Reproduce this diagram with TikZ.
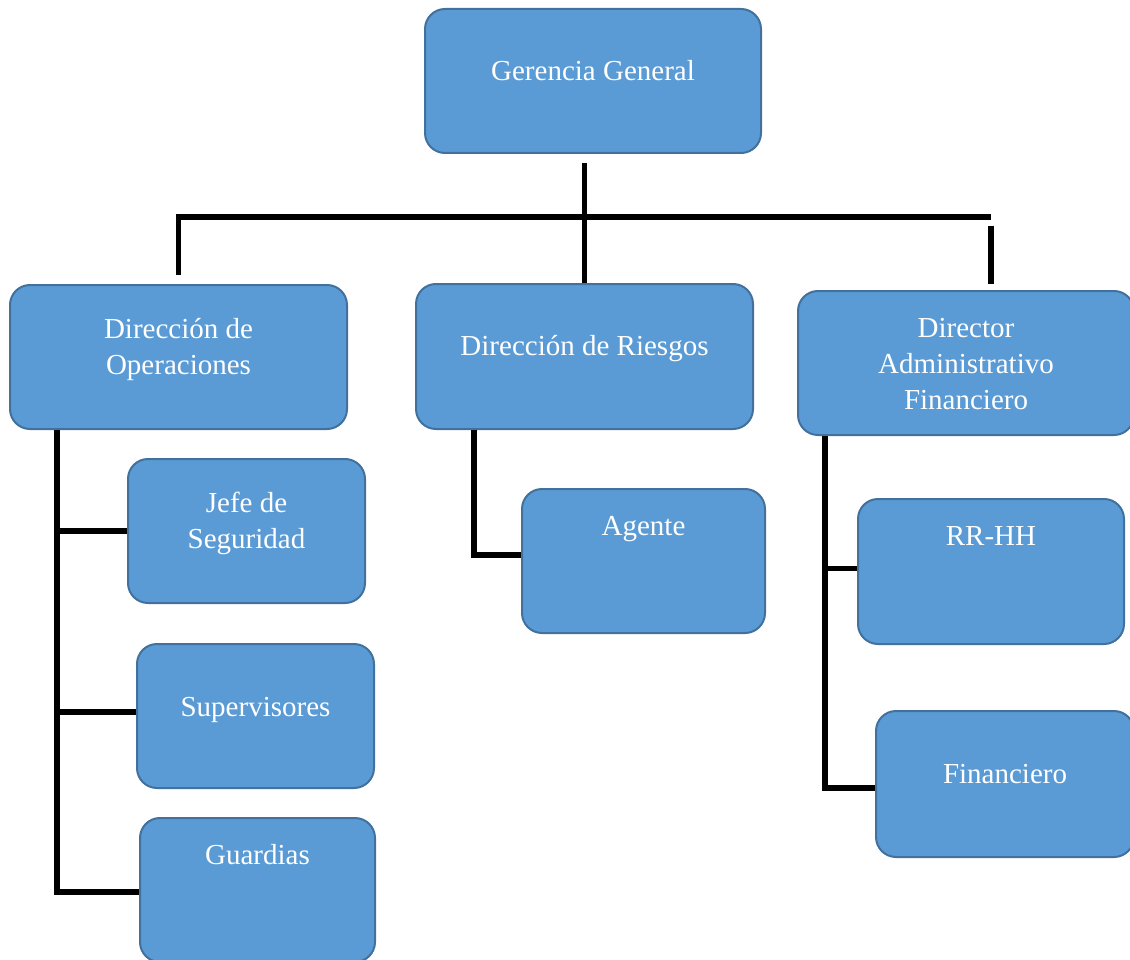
\documentclass[tikz,border=0pt]{standalone}
\usepackage{fontspec}
\setmainfont{Liberation Serif}
\definecolor{boxfill}{HTML}{5B9BD5}
\definecolor{boxline}{HTML}{41719C}
\begin{document}
\begin{tikzpicture}[x=1pt,y=-1pt,
    unit/.style={draw=boxline,fill=boxfill,line width=2pt,rounded corners=20pt,
      text=white,align=center,inner sep=0pt,anchor=north west,
      minimum width=336pt,font=\fontsize{29}{36}\selectfont},
    conn/.style={line width=5.5pt,black}]
  \useasboundingbox (0,0) rectangle (1130,960);
  \clip (0,0) rectangle (1130,960);
  \node[unit,text height=72pt,text depth=72pt] (gg) at (424,8) {Gerencia General};
  \node[unit,minimum width=337pt,text height=89pt,text depth=55pt] (ops) at (9,284)
    {Dirección de\\Operaciones};
  \node[unit,minimum width=337pt,text height=71pt,text depth=74pt] (rie) at (415,283)
    {Dirección de Riesgos};
  \node[unit,text height=118pt,text depth=26pt] (daf) at (797,290)
    {Director\\Administrativo\\Financiero};
  \node[unit,minimum width=237pt,text height=89pt,text depth=55pt] (jefe) at (127,458)
    {Jefe de\\Seguridad};
  \node[unit,minimum width=237pt,text height=72pt,text depth=72pt] (sup) at (136,643)
    {Supervisores};
  \node[unit,minimum width=235pt,text height=46pt,text depth=98pt] (gua) at (139,817)
    {Guardias};
  \node[unit,minimum width=243pt,text height=46pt,text depth=98pt] (age) at (521,488)
    {Agente};
  \node[unit,minimum width=266pt,text height=46pt,text depth=99pt] (rrhh) at (857,498)
    {RR-HH};
  \node[unit,minimum width=258pt,text height=72pt,text depth=74pt] (fin) at (875,710)
    {Financiero};
  \coordinate (busR) at (991,217);
  \draw[conn] ([yshift=-9pt]gg.south -| rie.north) -- (rie.north);
  \draw[conn] ([yshift=9pt]ops.north) |- (busR);
  \draw[conn] ([yshift=-9pt]busR) -- ([yshift=6pt]daf.north -| busR);
  \draw[conn] ([xshift=48pt]ops.south west) |- ([yshift=-2pt]gua.west);
  \draw[conn] ([xshift=48pt]ops.south west |- jefe.west) -- (jefe.west);
  \draw[conn] ([xshift=48pt,yshift=4pt]ops.south west |- sup.west) -- ([yshift=4pt]sup.west);
  \draw[conn] ([xshift=59pt]rie.south west) |- ([yshift=6pt]age.west);
  \draw[conn] ([xshift=28pt]daf.south west) |- ([yshift=-4pt]fin.west);
  \draw[conn] ([xshift=28pt,yshift=3pt]daf.south west |- rrhh.west) -- ([yshift=3pt]rrhh.west);
\end{tikzpicture}
\end{document}
